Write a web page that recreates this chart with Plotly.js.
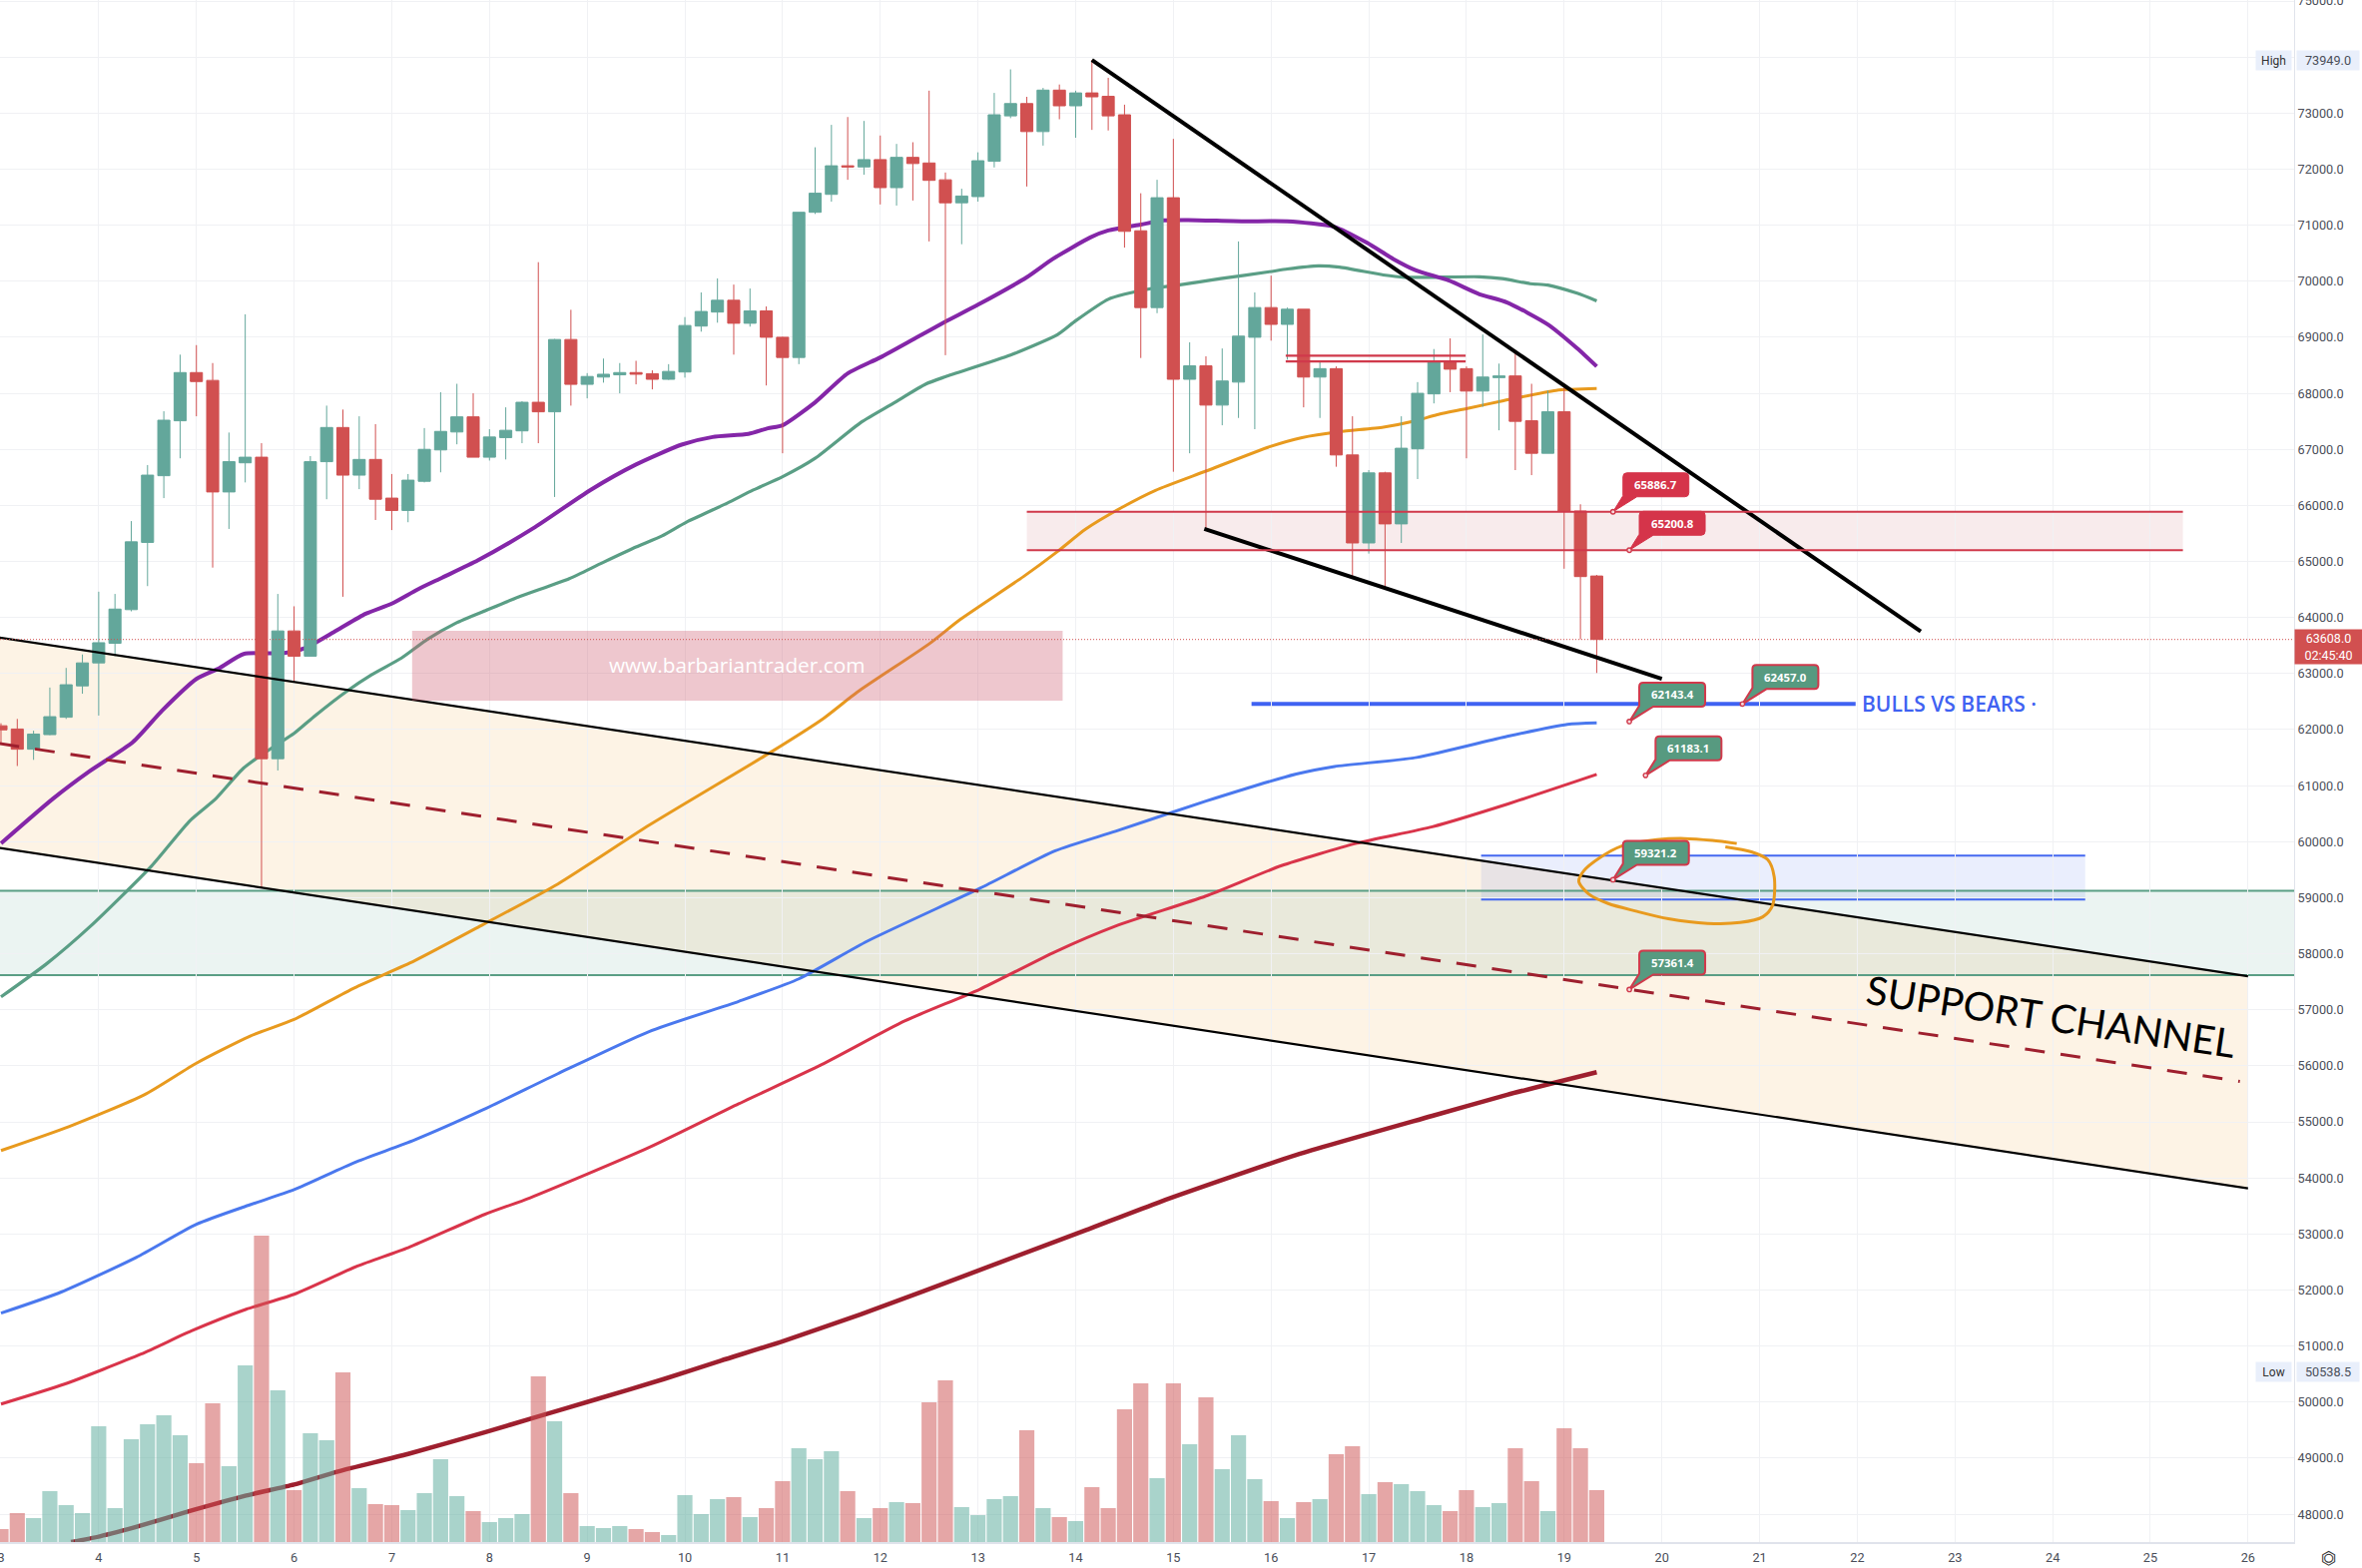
<!DOCTYPE html>
<html><head><meta charset="utf-8">
<script src="https://cdn.plot.ly/plotly-3.0.1.min.js"></script>
<style>html,body{margin:0;padding:0;background:#fff;overflow:hidden}</style>
</head><body><div id="chart" style="width:2366px;height:1571px"></div>
<script>
// ---------- candles (4h bars, bar 0 = day 3 00:00) ----------
const open = [62068,62010,61650,61910,62220,62780,63190,63540,64140,65340,66530,67510,68370,68230,66240,66760,66860,61480,63760,63310,66780,67390,66540,66820,66130,65910,66430,66990,67310,67580,66860,67210,67330,67840,67670,68960,68160,68290,68330,68370,68350,68250,68380,69200,69450,69660,69250,69470,69000,68640,71230,71550,72060,72040,72170,71670,72210,72110,71810,71400,71510,72140,72950,73170,72670,73410,73130,73360,73300,72970,70900,69530,71490,68250,68490,67790,68200,69000,69530,69230,69500,68290,68440,66900,65330,66580,65670,67010,67990,68580,68440,68040,68280,68310,67510,66930,67670,65900,64740];
const high = [62113,62190,61980,62750,63100,63340,64460,64420,65720,66720,67680,68690,68860,68540,67300,69410,67110,64420,64200,66880,67780,67710,67590,67450,66560,66560,67380,68020,68170,68000,67360,67750,67860,70340,68970,69490,68360,68620,68540,68580,68410,68520,69360,69800,70050,69940,69870,69550,69010,71230,72390,72790,72930,72860,72600,72450,72480,73400,71940,71650,72300,73360,73780,73290,73450,73510,73400,73949,73630,73150,71570,71810,72540,68910,68660,68800,70710,69800,70100,69530,69500,68570,68480,67590,66630,66600,67590,68200,68790,68980,68480,69050,68530,68720,68170,68050,68170,66020,64760];
const low = [61750,61350,61460,61900,62190,62640,62250,63310,64110,64560,66130,66840,67590,64890,65580,66410,59170,61270,62840,63310,66110,64370,66290,65740,65560,65700,66410,66590,67090,66860,66800,66820,67110,67110,66150,67780,67910,68190,68000,68160,68070,68240,68280,69100,69260,68690,69190,68140,66930,68520,71200,71420,71810,71900,71370,71350,71440,70710,68680,70660,71420,72030,72910,71690,72420,72890,72560,72700,72690,70600,68630,69430,66600,66930,65570,67430,67560,67360,68940,68600,67750,67560,66690,64720,65140,64550,65330,66470,67820,68020,66840,67760,67340,66630,66540,66930,64870,63610,63010];
const close = [61995,61650,61920,62230,62800,63190,63550,64150,65350,66540,67520,68370,68210,66240,66780,66860,61480,63760,63310,66780,67390,66540,66820,66110,65910,66450,67000,67320,67580,66860,67220,67340,67840,67670,68960,68160,68300,68340,68370,68340,68250,68390,69210,69460,69660,69250,69470,69000,68640,71230,71570,72060,72040,72170,71670,72210,72100,71800,71400,71520,72150,72970,73170,72670,73410,73130,73360,73290,72950,70890,69530,71490,68250,68490,67790,68220,69020,69530,69230,69500,68290,68440,66900,65330,66580,65670,67020,68000,68580,68430,68040,68290,68310,67500,66930,67670,65900,64730,63608];
const volume = [39,87,72,153,111,87,348,102,309,354,381,321,237,417,228,531,921,456,156,327,306,510,162,114,111,96,147,249,138,93,60,72,84,498,363,147,48,42,48,39,30,21,141,84,129,135,75,102,183,282,249,273,153,72,102,120,117,420,486,105,81,129,138,336,102,75,63,165,102,399,477,192,477,294,435,219,321,189,123,72,120,129,264,288,144,180,174,153,111,93,156,105,117,282,183,93,342,282,156];
const dayLabels = ['3','4','5','6','7','8','9','10','11','12','13','14','15','16','17','18','19','20','21','22','23','24','25','26'];
const priceTicks = [48000,49000,50000,51000,52000,53000,54000,55000,56000,57000,58000,59000,60000,61000,62000,63000,64000,65000,66000,67000,68000,69000,70000,71000,72000,73000,74000,75000];
const hiddenPriceLabels = [74000]; // covered by the High tag in the picture

// ---------- moving averages (sampled at bar positions) ----------
const purpleBars = [0,3.2,5.4,8.1,9.9,12,13.4,14.9,17.4,18.7,20.6,22.4,24,25.6,27.1,29.3,32.7,36.2,39,41.8,43.7,45.9,47.1,48,50,52,54,56.3,58,60,63,64.6,66.9,68,70,71.4,72.9,76.2,79,81.9,83.9,85.5,86.9,88.9,90.8,92.5,95,96.8,98];
const purpleVals = [59970,60769,61250,61777,62341,62904,63095,63349,63367,63458,63767,64067,64249,64503,64712,65021,65594,66275,66730,67084,67220,67275,67375,67429,67839,68354,68640,69008,69278,69580,70071,70398,70782,70905,71011,71085,71093,71069,71069,70970,70684,70398,70194,70014,69768,69621,69229,68803,68480];
const greenBars = [0,2.8,5.5,9.25,11.6,13.2,14.9,16.8,18,19.3,21.2,22.75,24.6,26.2,27.9,29.9,31.8,34.9,36.8,39,40.6,42.1,44.6,46.2,48,50,52.8,54.8,56.8,58,62,64.9,66,68,69,70.6,72.3,74.9,77.9,79,80.9,82.2,84.9,86.2,90.8,92.2,93.9,95,96.8,98];
const greenVals = [57230,57821,58493,59568,60374,60769,61314,61705,61932,62250,62677,62977,63277,63613,63895,64140,64367,64694,64958,65258,65457,65703,66039,66275,66512,66841,67479,67822,68166,68296,68681,69049,69294,69678,69768,69866,69932,70046,70169,70218,70275,70251,70112,70071,70079,70046,69956,69932,69785,69650];
const orangeBars = [0,4.2,8.8,12,15.3,18,21.7,25.4,29.6,34.2,39.8,47.2,50.5,52.6,57,58.9,62.8,64.9,66.6,68.8,70.9,74,77.9,79.9,82.2,84.9,86.9,88.2,90.2,92.2,95.5,98];
const orangeVals = [54489,54919,55484,56048,56531,56827,57391,57875,58520,59245,60293,61583,62196,62671,63529,63963,64731,65181,65574,65958,66269,66612,67045,67209,67315,67397,67511,67618,67740,67863,68051,68084];
const blueBars = [0,3.7,8.3,12,15.3,18,21.7,25.4,29.6,34.2,39.8,45.3,49,53.2,60.1,64.75,68.45,74,79.55,81.9,86.95,92.5,96.2,98];
const blueVals = [51587,51964,52581,53173,53522,53791,54274,54678,55215,55860,56612,57150,57552,58224,59164,59837,60186,60723,61207,61341,61503,61878,62093,62120];
const redBars = [0,3.9,8.6,11.7,15.06,18,21.9,25,29.7,32.5,39.8,45.3,50.4,55.5,60.1,64.75,68.45,74,78.6,83.25,87.9,92.5,98];
const redVals = [49965,50321,50856,51271,51657,51924,52429,52755,53349,53646,54543,55322,56021,56800,57364,58036,58493,59030,59568,59971,60266,60669,61200];
const maroonBars = [4.3,6.06,8.6,11.7,15.06,18,20.7,25,29.7,32.9,36.4,40.7,44.2,48.1,52.8,56.7,61.3,66.6,71.2,79.55,87.9,92.5,98];
const maroonVals = [47502,47603,47798,48065,48333,48529,48761,49074,49461,49735,50036,50410,50738,51094,51567,51984,52488,53065,53575,54409,55107,55483,55886];

// ---------- drawings ----------
const resistBars = [67,117.9];   const resistVals = [73949,63750];
const fallBars = [73.9,102];     const fallVals = [65582,62907];
const chanTopBars = [-0.1,138];  const chanTopVals = [63641,57600];
const chanBotBars = [-0.1,138];  const chanBotVals = [59887,53813];
const chanMidBars = [-0.1,137.5];const chanMidVals = [61750,55723];
const circleBars = [106.6,105.1,103.4,101.7,99.5,98.2,97.2,96.9,97.5,98.7,100.4,102.4,104.8,106.8,108.2,108.8,108.9,108.5,107.5,105.9];
const circleVals = [59967,60022,60056,60035,59919,59715,59477,59292,59067,58896,58761,58624,58542,58556,58658,58862,59374,59680,59817,59906];
const lastPrice = 63608, highPrice = 73949, lowPrice = 50538.5;
const redZone = [65886.7,65200.8], redZoneBars = [63,134];
const greenZone = [59123,57618];
const blueZone = [59750,58966], blueZoneBars = [90.9,128];
const pinkBox = [63762,62515], pinkBoxBars = [25.25,65.2];
const miniZone = [68670,68570], miniZoneBars = [78.9,89.95];
const bullsLine = 62457, bullsBars = [76.8,113.9];
const notes = [
  {bar:99,  price:65886.7, text:'65886.7', up:false},
  {bar:100, price:65200.8, text:'65200.8', up:false},
  {bar:100, price:62143.4, text:'62143.4', up:true},
  {bar:106.95, price:62457.0, text:'62457.0', up:true},
  {bar:101, price:61183.1, text:'61183.1', up:true},
  {bar:99,  price:59321.2, text:'59321.2', up:true},
  {bar:100, price:57361.4, text:'57361.4', up:true}
];

// ---------- colours ----------
const UP='#63A79B', DOWN='#D15050', ZRED='#D0394B', ZBLUE='#4468F0', ZGREEN='#5A9E85';
const FONT='Roboto, "Liberation Sans", sans-serif', TXT='#4a4e59';
const bars = close.map((_,i)=>i);

function maTrace(x,y,color,width){
  return {type:'scatter',mode:'lines',x:x,y:y,xaxis:'x',yaxis:'y',hoverinfo:'skip',
    line:{color:color,width:width,shape:'spline',smoothing:0.6}};
}
function topLine(x,y,color,width,dash){
  return {type:'scatter',mode:'lines',x:x,y:y,xaxis:'x',yaxis:'y3',hoverinfo:'skip',
    line:{color:color,width:width,dash:dash||'solid'}};
}
const traces = [
  maTrace(maroonBars,maroonVals,'#9E1F2E',4.5),
  maTrace(redBars,redVals,'#D9344A',3),
  maTrace(blueBars,blueVals,'#4A78EE',3),
  maTrace(orangeBars,orangeVals,'#E89A1E',3),
  maTrace(greenBars,greenVals,'#5A9E85',3.2),
  maTrace(purpleBars,purpleVals,'#8426A8',4),
  {type:'bar',x:bars,y:volume,xaxis:'x',yaxis:'y2',hoverinfo:'skip',
    marker:{color:bars.map(i=>close[i]>=open[i]?'rgba(99,175,160,0.55)':'rgba(205,85,85,0.52)'),line:{width:0}}},
  {type:'candlestick',x:bars,open:open,high:high,low:low,close:close,xaxis:'x',yaxis:'y3',hoverinfo:'skip',
    whiskerwidth:0,
    increasing:{line:{color:UP,width:1},fillcolor:UP},
    decreasing:{line:{color:DOWN,width:1},fillcolor:DOWN}},
  topLine(chanTopBars,chanTopVals,'#000',2.2),
  topLine(chanBotBars,chanBotVals,'#000',2.2),
  topLine(chanMidBars,chanMidVals,'#9E1F2E',3,'20px,16px'),
  topLine(resistBars,resistVals,'#000',4),
  topLine(fallBars,fallVals,'#000',4),
  {type:'scatter',mode:'lines',x:circleBars,y:circleVals,xaxis:'x',yaxis:'y3',hoverinfo:'skip',
    line:{color:'#E89A1E',width:3,shape:'spline',smoothing:0.8}}
];

function hRect(x0,x1,y0,y1,fill,layer){
  return {type:'rect',xref:'x',yref:'y',x0:x0,x1:x1,y0:y0,y1:y1,fillcolor:fill,line:{width:0},layer:layer||'below'};
}
function hLine(x0,x1,y,color,w,layer){
  return {type:'line',xref:'x',yref:'y',x0:x0,x1:x1,y0:y,y1:y,line:{color:color,width:w},layer:layer||'below'};
}
const XMIN=-0.061, XMAX=140.83;
const chanPath = 'M'+chanTopBars[0]+','+chanTopVals[0]+' L'+chanTopBars[1]+','+chanTopVals[1]+
                 ' L'+chanBotBars[1]+','+chanBotVals[1]+' L'+chanBotBars[0]+','+chanBotVals[0]+' Z';
const shapes = [
  {type:'path',xref:'x',yref:'y',path:chanPath,fillcolor:'#FDF3E5',line:{width:0},layer:'below'},
  hRect(XMIN,XMAX,greenZone[0],greenZone[1],'rgba(90,165,150,0.12)'),
  hRect(redZoneBars[0],redZoneBars[1],redZone[0],redZone[1],'rgba(190,70,80,0.11)'),
  hRect(blueZoneBars[0],blueZoneBars[1],blueZone[0],blueZone[1],'rgba(68,104,240,0.11)'),
  hLine(XMIN,XMAX,greenZone[0],ZGREEN,2), hLine(XMIN,XMAX,greenZone[1],ZGREEN,2),
  hLine(redZoneBars[0],redZoneBars[1],redZone[0],ZRED,2,'above'), hLine(redZoneBars[0],redZoneBars[1],redZone[1],ZRED,2,'above'),
  hLine(blueZoneBars[0],blueZoneBars[1],blueZone[0],ZBLUE,2), hLine(blueZoneBars[0],blueZoneBars[1],blueZone[1],ZBLUE,2),
  hLine(miniZoneBars[0],miniZoneBars[1],miniZone[0],ZRED,2.2,'above'), hLine(miniZoneBars[0],miniZoneBars[1],miniZone[1],ZRED,2.2,'above'),
  hLine(bullsBars[0],bullsBars[1],bullsLine,'#3F62F2',4),
  hRect(pinkBoxBars[0],pinkBoxBars[1],pinkBox[0],pinkBox[1],'rgba(205,90,110,0.34)','above'),
  {type:'line',xref:'paper',yref:'y',x0:0,x1:1,y0:lastPrice,y1:lastPrice,line:{color:DOWN,width:1,dash:'1px,2px'},layer:'above'}
];
// callout bubbles: rounded box with a wedge, sized in pixels and anchored at a bar/price
const CALLOUT='M0 0 L10 16 L10 35 Q10 39 14 39 L72 39 Q76 39 76 35 L76 19 Q76 15 72 15 L24 15 Z';
notes.forEach(n=>{
  shapes.push({type:'path',xref:'x',yref:'y',xsizemode:'pixel',ysizemode:'pixel',xanchor:n.bar,yanchor:n.price,path:CALLOUT,
    fillcolor:n.up?'#579A80':'#D5344A',line:{color:n.up?ZRED:'#D5344A',width:n.up?2:1},layer:'above'});
  shapes.push({type:'circle',xref:'x',yref:'y',xsizemode:'pixel',ysizemode:'pixel',xanchor:n.bar,yanchor:n.price,x0:-2.2,x1:2.2,y0:-2.2,y1:2.2,
    fillcolor:'#F6D9DC',line:{color:ZRED,width:1.4},layer:'above'});
});

const annotations = notes.map(n=>({
  xref:'x',yref:'y',x:n.bar,y:n.price,xshift:43,yshift:27,text:'<b>'+n.text+'</b>',showarrow:false,
  font:{family:'"Open Sans", sans-serif',size:11.4,color:'#fff'}
}));
annotations.push(
  {xref:'x',yref:'y',x:45.2,y:63165,text:'www.barbariantrader.com',showarrow:false,
   font:{family:'"Open Sans", sans-serif',size:20.8,color:'#fff'}},
  {xref:'x',yref:'y',x:114.15,y:bullsLine,xanchor:'left',text:'BULLS VS BEARS ·',showarrow:false,
   font:{family:'"Open Sans", sans-serif',size:21,weight:600,color:'#3F62F2'}},
  {xref:'x',yref:'y',x:125.9,y:56905,text:'SUPPORT CHANNEL',showarrow:false,textangle:8.4,
   font:{family:'Lato, sans-serif',size:39.6,color:'#000'}},
  {xref:'paper',yref:'y',x:1,y:lastPrice,xanchor:'left',yanchor:'middle',yshift:-7,showarrow:false,
   text:'63608.0<br>02:45:40',bgcolor:DOWN,borderpad:0,width:67,height:34,xshift:0,
   font:{family:FONT,size:12.5,color:'#fff'}},
  {xref:'paper',yref:'y',x:1,y:highPrice,xanchor:'right',showarrow:false,text:'High',bgcolor:'#E9EFFB',width:35,height:19,borderpad:0,xshift:-2,
   font:{family:FONT,size:12,color:'#333'}},
  {xref:'paper',yref:'y',x:1,y:highPrice,xanchor:'left',showarrow:false,text:'73949.0',bgcolor:'#E9EFFB',width:62,height:19,borderpad:0,xshift:2,
   font:{family:FONT,size:12.7,color:TXT}},
  {xref:'paper',yref:'y',x:1,y:lowPrice,xanchor:'right',showarrow:false,text:'Low',bgcolor:'#E9EFFB',width:35,height:19,borderpad:0,xshift:-2,
   font:{family:FONT,size:12,color:'#333'}},
  {xref:'paper',yref:'y',x:1,y:lowPrice,xanchor:'left',showarrow:false,text:'50538.5',bgcolor:'#E9EFFB',width:62,height:19,borderpad:0,xshift:2,
   font:{family:FONT,size:12.7,color:TXT}},
  {xref:'paper',yref:'paper',x:1.0152,y:0,xanchor:'center',yanchor:'middle',yshift:-15,showarrow:false,text:'⏣',
   font:{family:'"DejaVu Sans"',size:18,color:'#333'}}
);

const layout = {
  width:2366,height:1571,margin:{l:0,r:68,t:0,b:26},
  paper_bgcolor:'#fff',plot_bgcolor:'#fff',showlegend:false,
  bargap:0.07,boxgap:0.26,boxgroupgap:0,dragmode:false,
  xaxis:{type:'linear',range:[XMIN,XMAX],tickmode:'array',tickvals:dayLabels.map((_,k)=>k*6),ticktext:dayLabels,
    showgrid:true,gridcolor:'#F0F1F4',gridwidth:1,zeroline:false,showline:true,linecolor:'#E0E3EB',linewidth:2,
    ticks:'',ticklabelstandoff:3,ticklabeloverflow:'allow',tickfont:{family:FONT,size:12.7,color:TXT},rangeslider:{visible:false},fixedrange:true},
  yaxis:{range:[47503,75018],side:'right',tickmode:'array',tickvals:priceTicks,
    ticktext:priceTicks.map(p=>hiddenPriceLabels.includes(p)?'':p.toFixed(1)),
    showgrid:true,gridcolor:'#F0F1F4',gridwidth:1,zeroline:false,showline:true,linecolor:'#E0E3EB',linewidth:1,
    ticks:'',ticklabeloverflow:'allow',tickfont:{family:FONT,size:12.7,color:TXT},fixedrange:true},
  yaxis2:{overlaying:'y',range:[0,4635],visible:false,fixedrange:true},
  yaxis3:{overlaying:'y',range:[47503,75018],visible:false,fixedrange:true},
  shapes:shapes,annotations:annotations
};
Plotly.newPlot('chart',traces,layout,{displayModeBar:false,staticPlot:true});
</script></body></html>
